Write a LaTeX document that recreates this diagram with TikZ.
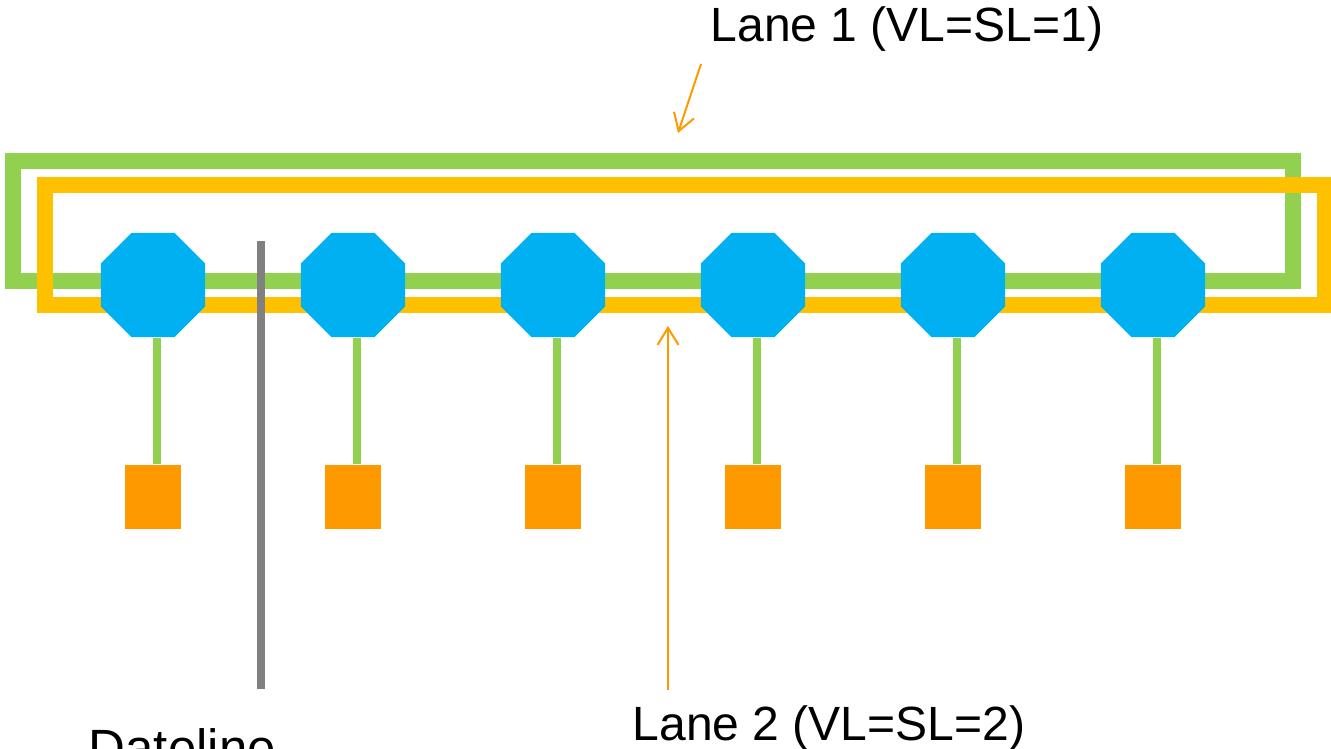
\documentclass[tikz,border=0pt]{standalone}
\usepackage{fontspec}
\setmainfont{Liberation Sans}
\usetikzlibrary{shapes.geometric,arrows.meta}
\definecolor{lanegreen}{HTML}{92D050}
\definecolor{laneorange}{HTML}{FFC000}
\definecolor{routerblue}{HTML}{00B0F0}
\definecolor{nodeorange}{HTML}{FF9900}
\definecolor{dategrey}{HTML}{808080}
\tikzset{
  lane/.style={line width=0.16cm, line join=miter},
  router/.style={regular polygon, regular polygon sides=8, minimum size=1.1257cm, inner sep=0pt, fill=routerblue, draw=none},
  endpoint/.style={rectangle, minimum width=0.56cm, minimum height=0.64cm, inner sep=0pt, fill=nodeorange, draw=none},
  stub/.style={lanegreen, line width=0.08cm},
  callout/.style={nodeorange, line width=0.02cm, -{Straight Barb[length=0.17cm, width=0.21cm, line width=0.02cm]}},
  label/.style={inner sep=0pt, anchor=base west, font=\fontsize{13.66pt}{16pt}\selectfont},
}
\begin{document}
\begin{tikzpicture}[x=0.01cm, y=-0.01cm]
\clip (0,0) rectangle (1331,749);
\fill[white] (0,0) rectangle (1331,749);
% lanes
\draw[lane, lanegreen] (13,281) -- (13,161) -- (1293,161) -- (1293,281) -- cycle;
\draw[lane, laneorange] (45,305) -- (45,185) -- (1325,185) -- (1325,305) -- cycle;
% routers and endpoints
\foreach \i in {1,...,6} {
  \node[router] (o\i) at ({153+200*(\i-1)},285) {};
  \node[endpoint] (s\i) at ({153+200*(\i-1)},497) {};
  \draw[stub] ([xshift=0.04cm]o\i.south) -- ([xshift=0.04cm]s\i.north);
}
% dateline
\coordinate (dtop) at (261,241);
\coordinate (dbot) at (261,689);
\draw[dategrey, line width=0.08cm] (dtop) -- (dbot);
\node[label, font=\fontsize{14.5pt}{17pt}\selectfont] (dl) at (88,765) {Dateline};
% labels
\node[label] (l1) at (710,42) {Lane 1 (VL=SL=1)};
\node[label] (l2) at (632,740) {Lane 2 (VL=SL=2)};
\coordinate (a1s) at (701,64);
\coordinate (a1e) at (678,133);
\coordinate (a2s) at (668,690);
\coordinate (a2e) at (668,326);
\draw[callout] (a1s) -- (a1e);
\draw[callout] (a2s) -- (a2e);
\end{tikzpicture}
\end{document}
